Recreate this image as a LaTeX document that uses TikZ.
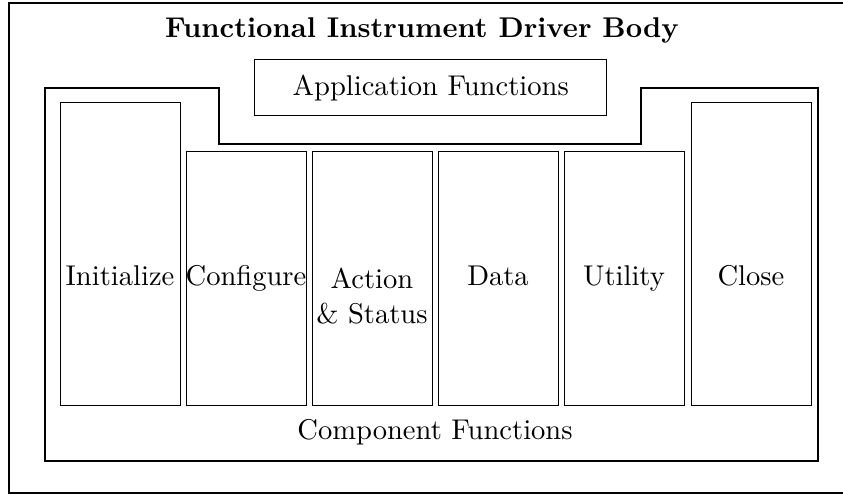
\documentclass[tikz,border=0pt]{standalone}
\begin{document}
\begin{tikzpicture}[x=0.35pt, y=-0.35pt,
  frameline/.style={line width=0.5pt, line join=miter},
  fnbox/.style={draw, line width=0.5pt, inner sep=0pt, anchor=north west},
  fnlabel/.style={inner sep=0pt, font=\normalsize},
  tallbox/.style={fnbox, minimum width=120*0.35pt, minimum height=303*0.35pt},
  shortbox/.style={fnbox, minimum width=120*0.35pt, minimum height=254*0.35pt}]
  \useasboundingbox (0,0) rectangle (843,495);

  % driver body frame (open on the right)
  \draw[frameline] (843,3) -- (9,3) -- (9,493) -- (843,493);
  \node[inner sep=0pt, font=\bfseries] (title) at (422,30) {Functional Instrument Driver Body};

  % application functions
  \node[fnbox, minimum width=352*0.35pt, minimum height=56*0.35pt] (app) at (254,59) {};
  \node[fnlabel] (applabel) at (app.center) {Application Functions};

  % component functions outline, notched under the application box
  \coordinate (c1) at (45,88);
  \coordinate (c2) at (219,88);
  \coordinate (c3) at (219,144);
  \coordinate (c4) at (641,144);
  \coordinate (c5) at (641,88);
  \coordinate (c6) at (818,88);
  \coordinate (c7) at (818,461);
  \coordinate (c8) at (45,461);
  \draw[frameline] (c1) -- (c2) -- (c3) -- (c4) -- (c5) -- (c6) -- (c7) -- (c8) -- cycle;
  \node[fnlabel] (complabel) at (435,432) {Component Functions};

  % the six component function boxes
  \node[tallbox]  (init)   at (60,102)  {};
  \node[shortbox] (config) at (186,151) {};
  \node[shortbox] (action) at (312,151) {};
  \node[shortbox] (data)   at (438,151) {};
  \node[shortbox] (util)   at (564,151) {};
  \node[tallbox]  (close)  at (691,102) {};

  \node[fnlabel, anchor=base] (initlabel)   at (120,285) {Initialize};
  \node[fnlabel, anchor=base] (configlabel) at (246,285) {Configure};
  \node[fnlabel, align=center] (actionlabel) at (372,296) {Action\\\& Status};
  \node[fnlabel, anchor=base] (datalabel)   at (498,285) {Data};
  \node[fnlabel, anchor=base] (utillabel)   at (624,285) {Utility};
  \node[fnlabel, anchor=base] (closelabel)  at (751,285) {Close};
\end{tikzpicture}
\end{document}
